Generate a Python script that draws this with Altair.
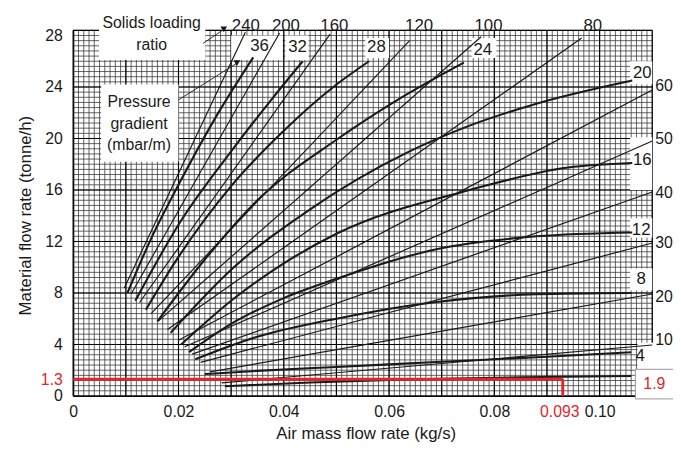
import altair as alt
import pandas as pd
import numpy as np

X_MAX = 0.11
Y_MAX = 28.4
W, H = 586, 370
FONT = "Liberation Sans"
RED = "#e3262b"
INK = "#1a1a1a"

# ---------------- data ----------------
# solids loading ratio lines (straight lines)
ratio_names = [240, 200, 160, 120, 100, 80, 60, 50, 40, 30, 20, 10]
ratio_x0 = [0.0097, 0.0110, 0.0126, 0.0148, 0.0162, 0.0179, 0.0199, 0.0212, 0.0226, 0.0242, 0.0260, 0.0282]
ratio_y0 = [8.38, 7.92, 7.26, 6.39, 5.83, 5.16, 4.30, 3.82, 3.25, 2.61, 1.87, 1.02]
ratio_x1 = [0.0327, 0.0392, 0.0488, 0.0639, 0.0775, 0.0966, 0.110, 0.110, 0.110, 0.110, 0.110, 0.110]
ratio_y1 = [28.25, 28.2, 28.1, 27.6, 27.9, 27.8, 23.76, 19.8, 15.84, 11.88, 7.92, 3.96]

top_ratio_text = ["240", "200", "160", "120", "100", "80"]
top_ratio_x = [0.0328, 0.0404, 0.0496, 0.0657, 0.0789, 0.0987]
top_ratio_y = [28.7, 28.7, 28.7, 28.7, 28.7, 28.7]
right_ratio_text = ["60", "50", "40", "30", "20", "10"]
right_ratio_y = [24.1, 19.95, 15.73, 11.9, 7.67, 4.37]

# pressure gradient curves (mbar/m)
pg_36_x = [0.0103, 0.0150, 0.0200, 0.0270, 0.0342]
pg_36_y = [8.0, 12.4, 16.4, 21.6, 26.3]
pg_32_x = [0.0118, 0.0200, 0.0300, 0.0380, 0.0436]
pg_32_y = [7.4, 13.3, 19.0, 23.2, 26.0]
pg_28_x = [0.0138, 0.0200, 0.0300, 0.0400, 0.0502, 0.0562]
pg_28_y = [6.7, 10.8, 16.3, 20.6, 24.25, 26.0]
pg_24_x = [0.0160, 0.0250, 0.0350, 0.0500, 0.0620, 0.0742]
pg_24_y = [5.8, 10.6, 15.2, 19.9, 23.1, 25.9]
pg_20_x = [0.0185, 0.0300, 0.0450, 0.0634, 0.0753, 0.0880, 0.1062]
pg_20_y = [4.9, 9.8, 14.5, 18.9, 21.0, 22.7, 24.5]
pg_16_x = [0.0205, 0.0300, 0.0400, 0.0500, 0.0753, 0.0940, 0.1062]
pg_16_y = [4.0, 7.4, 10.3, 12.6, 16.0, 17.75, 18.1]
pg_12_x = [0.0220, 0.0300, 0.0400, 0.0500, 0.0690, 0.0880, 0.1062]
pg_12_y = [3.4, 5.6, 7.6, 9.1, 11.4, 12.4, 12.7]
pg_8_x = [0.0232, 0.0350, 0.0500, 0.0690, 0.0880, 0.1060]
pg_8_y = [2.85, 4.6, 6.0, 7.3, 7.9, 8.0]
pg_4_x = [0.0250, 0.0350, 0.0500, 0.0700, 0.0900, 0.1060]
pg_4_y = [1.7, 1.95, 2.25, 2.65, 3.05, 3.4]
pg_2_x = [0.0288, 0.0450, 0.0650, 0.0850, 0.1060]
pg_2_y = [0.75, 1.05, 1.3, 1.45, 1.55]

pg_label_text = ["36", "32", "28", "24", "20", "16", "12", "8", "4"]
pg_label_x = [0.0354, 0.0426, 0.0576, 0.0778, 0.1081, 0.1081, 0.1079, 0.1079, 0.1077]
pg_label_y = [27.17, 27.09, 27.09, 26.86, 25.1, 18.3, 12.9, 9.1, 3.07]

# white label boxes
box_x0 = [0.0049, 0.0300, 0.0403, 0.0555, 0.0757, 0.0053, 0.1058, 0.1058, 0.1058, 0.1058, 0.1072]
box_x1 = [0.0251, 0.0398, 0.0447, 0.0600, 0.0804, 0.0200, 0.1100, 0.1100, 0.1100, 0.1100, 0.1102]
box_y0 = [26.1, 26.1, 26.1, 26.25, 26.25, 18.2, 24.2, 16.0, 12.3, 8.2, 2.07]
box_y1 = [28.6, 28.0, 28.0, 27.8, 27.8, 24.2, 26.0, 20.1, 13.8, 9.9, 4.14]

# annotation texts
note_text = ["Solids loading", "ratio", "Pressure", "gradient", "(mbar/m)"]
note_x = [0.0149, 0.0149, 0.0125, 0.0125, 0.0125]
note_y = [28.93, 27.24, 22.8, 21.1, 19.5]

arrow_x0 = [0.0247, 0.0200]
arrow_y0 = [27.4, 23.0]
arrow_x1 = [0.0286, 0.0311]
arrow_y1 = [28.47, 25.85]

# red working lines
red_x0 = [0.0, 0.093]
red_y0 = [1.3, 1.3]
red_x1 = [0.093, 0.093]
red_y1 = [1.3, 0.0]
red_x_label = ["0.093"]
red_x_label_x = [0.093]
answer_text = ["1.9"]
answer_x = [0.1104]
answer_y = [0.92]
answer_box_x0 = [0.1068]
answer_box_x1 = [0.1150]
answer_box_y0 = [-0.23]
answer_box_y1 = [2.07]

# graph-paper grid
minor_x = np.round(np.arange(0, 0.1105, 0.001), 4)
minor_y = np.round(np.arange(0, 28.41, 0.4), 2)
major_x = np.round(np.arange(0, 0.1105, 0.01), 3)
major_y = [0, 4, 8, 12, 16, 20, 24, 28.4]

# ---------------- chart ----------------
xscale = alt.Scale(domain=[0, X_MAX], nice=False, zero=False)
yscale = alt.Scale(domain=[0, Y_MAX], nice=False, zero=False)

x_axis = alt.Axis(
    values=[0, 0.02, 0.04, 0.06, 0.08, 0.10],
    labelExpr="datum.value == 0 ? '0' : format(datum.value, '.2f')",
    labelColor=INK,
    labelFont=FONT, labelFontSize=16, labelPadding=8, labelOverlap=False, labelBound=False,
    labelFlush=False, ticks=False, grid=False, domainColor="#000", domainWidth=1.2,
    title="Air mass flow rate (kg/s)", titleFont=FONT, titleFontSize=17, titleFontWeight="normal",
    titleColor=INK, titleX=296, titleY=38, titleBaseline="middle",
)
y_axis = alt.Axis(
    values=[0, 1.3, 4, 8, 12, 16, 20, 24, 28],
    format="~g",
    labelColor=alt.condition("datum.value == 1.3", alt.value(RED), alt.value(INK)),
    labelFont=FONT, labelFontSize=16, labelPadding=11, labelOverlap=False, labelBound=False,
    labelFlush=False, ticks=False, grid=False, domainColor="#000", domainWidth=1.2,
    title="Material flow rate (tonne/h)", titleFont=FONT, titleFontSize=17, titleFontWeight="normal",
    titleColor=INK, titleX=-48, titleY=187, titleBaseline="middle", titleAngle=-90,
)


def X(field="x"):
    return alt.X(f"{field}:Q", scale=xscale, axis=x_axis)


def Y(field="y"):
    return alt.Y(f"{field}:Q", scale=yscale, axis=y_axis)


def X2(field="x2"):
    return alt.X2(f"{field}:Q")


def Y2(field="y2"):
    return alt.Y2(f"{field}:Q")


GRID_MINOR = "#3c3c3c"
vgrid_minor = alt.Chart(pd.DataFrame({"x": minor_x, "y": 0.0, "y2": Y_MAX})).mark_rule(
    color=GRID_MINOR, strokeWidth=0.8).encode(x=X(), y=Y(), y2=Y2())
hgrid_minor = alt.Chart(pd.DataFrame({"y": minor_y, "x": 0.0, "x2": X_MAX})).mark_rule(
    color=GRID_MINOR, strokeWidth=0.8).encode(y=Y(), x=X(), x2=X2())
vgrid_major = alt.Chart(pd.DataFrame({"x": major_x, "y": 0.0, "y2": Y_MAX})).mark_rule(
    color="#000", strokeWidth=1.15).encode(x=X(), y=Y(), y2=Y2())
hgrid_major = alt.Chart(pd.DataFrame({"y": major_y, "x": 0.0, "x2": X_MAX})).mark_rule(
    color="#000", strokeWidth=1.15).encode(y=Y(), x=X(), x2=X2())

boxes = alt.Chart(pd.DataFrame({"x": box_x0, "x2": box_x1, "y": box_y0, "y2": box_y1})).mark_rect(
    color="white", clip=False).encode(x=X(), x2=X2(), y=Y(), y2=Y2())

ratio_lines = alt.Chart(pd.DataFrame({"r": ratio_names, "x": ratio_x0, "y": ratio_y0,
                                      "x2": ratio_x1, "y2": ratio_y1})).mark_rule(
    color=INK, strokeWidth=1.2).encode(x=X(), y=Y(), x2=X2(), y2=Y2())

curves = {
    "36": (pg_36_x, pg_36_y), "32": (pg_32_x, pg_32_y), "28": (pg_28_x, pg_28_y),
    "24": (pg_24_x, pg_24_y), "20": (pg_20_x, pg_20_y), "16": (pg_16_x, pg_16_y),
    "12": (pg_12_x, pg_12_y), "8": (pg_8_x, pg_8_y), "4": (pg_4_x, pg_4_y), "2": (pg_2_x, pg_2_y),
}
rows = []
for name, (xs, ys) in curves.items():
    for i, (a, b) in enumerate(zip(xs, ys)):
        rows.append({"pg": name, "x": a, "y": b, "o": i})
pg_df = pd.DataFrame(rows)
pg_lines = alt.Chart(pg_df).mark_line(color=INK, strokeWidth=2.1, interpolate="monotone").encode(
    x=X(), y=Y(), detail="pg:N", order="o:Q")

red_lines = alt.Chart(pd.DataFrame({"x": red_x0, "y": red_y0, "x2": red_x1, "y2": red_y1})).mark_rule(
    color=RED, strokeWidth=3).encode(x=X(), y=Y(), x2=X2(), y2=Y2())
red_xlab = alt.Chart(pd.DataFrame({"x": red_x_label_x, "y": [0.0], "t": red_x_label})).mark_text(
    font=FONT, fontSize=16, color=RED, align="center", baseline="top", dy=8, dx=-3).encode(
    x=X(), y=Y(), text="t:N")

answer_box = alt.Chart(pd.DataFrame({"x": answer_box_x0, "x2": answer_box_x1,
                                     "y": answer_box_y0, "y2": answer_box_y1})).mark_rect(
    fill="white", stroke="#999", strokeWidth=1, clip=False).encode(x=X(), x2=X2(), y=Y(), y2=Y2())
answer = alt.Chart(pd.DataFrame({"x": answer_x, "y": answer_y, "t": answer_text})).mark_text(
    font=FONT, fontSize=16, color=RED, align="center", baseline="middle").encode(x=X(), y=Y(), text="t:N")

pg_labels = alt.Chart(pd.DataFrame({"x": pg_label_x, "y": pg_label_y, "t": pg_label_text})).mark_text(
    font=FONT, fontSize=17, color=INK, align="center", baseline="middle").encode(x=X(), y=Y(), text="t:N")

top_labels = alt.Chart(pd.DataFrame({"x": top_ratio_x, "y": top_ratio_y, "t": top_ratio_text})).mark_text(
    font=FONT, fontSize=17, color=INK, align="center", baseline="middle").encode(x=X(), y=Y(), text="t:N")

right_labels = alt.Chart(pd.DataFrame({"x": [X_MAX] * len(right_ratio_y), "y": right_ratio_y,
                                       "t": right_ratio_text})).mark_text(
    font=FONT, fontSize=16, color=INK, align="left", baseline="middle", dx=3).encode(x=X(), y=Y(), text="t:N")

notes = alt.Chart(pd.DataFrame({"x": note_x, "y": note_y, "t": note_text})).mark_text(
    font=FONT, fontSize=16, color=INK, align="center", baseline="middle").encode(x=X(), y=Y(), text="t:N")

arrows = alt.Chart(pd.DataFrame({"x": arrow_x0, "y": arrow_y0, "x2": arrow_x1, "y2": arrow_y1})).mark_rule(
    color=INK, strokeWidth=0.9).encode(x=X(), y=Y(), x2=X2(), y2=Y2())
heads = alt.Chart(pd.DataFrame({"x": arrow_x1, "y": arrow_y1})).mark_point(
    shape="triangle-down", filled=True, color=INK, size=45, opacity=1).encode(x=X(), y=Y())

chart = alt.layer(
    vgrid_minor, hgrid_minor, vgrid_major, hgrid_major, boxes,
    ratio_lines, pg_lines, red_lines, red_xlab, answer_box, answer,
    pg_labels, top_labels, right_labels, notes, arrows, heads,
).properties(
    width=W, height=H,
    autosize=alt.AutoSizeParams(type="none"),
    padding={"left": 66, "top": 20, "right": 21, "bottom": 45},
    background="white",
).configure_view(stroke=None)

chart.save("out.html", embed_options={"renderer": "svg", "actions": False})
